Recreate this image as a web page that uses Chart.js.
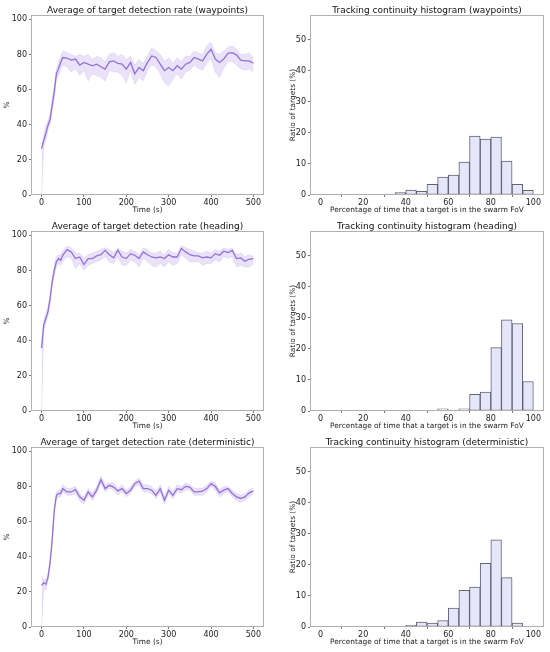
<!DOCTYPE html>
<html>
<head>
<meta charset="utf-8">
<script src="https://cdn.jsdelivr.net/npm/chart.js@4.4.0/dist/chart.umd.min.js"></script>
<style>
  body { margin: 0; background: #fff; }
  #wrap { position: relative; width: 550px; height: 652px; }
  .panel { position: absolute; width: 275px; height: 216px; }
</style>
</head>
<body>
<div id="wrap">
  <div class="panel" style="left:0;top:0"><canvas id="line1"></canvas></div>
  <div class="panel" style="left:275px;top:0"><canvas id="hist1"></canvas></div>
  <div class="panel" style="left:0;top:216px"><canvas id="line2"></canvas></div>
  <div class="panel" style="left:275px;top:216px"><canvas id="hist2"></canvas></div>
  <div class="panel" style="left:0;top:432px"><canvas id="line3"></canvas></div>
  <div class="panel" style="left:275px;top:432px"><canvas id="hist3"></canvas></div>
</div>
<script>
// time samples (s)
const times = [0,5,10,15,20,25,30,35,40,45,50,60,70,80,90,100,110,120,130,140,150,160,170,180,190,200,210,220,230,240,250,260,270,280,290,300,310,320,330,340,350,360,370,380,390,400,410,420,430,440,450,460,470,480,490,500];

// waypoints: mean detection rate and spread band
const wpMean = [26.4,31,35,39.6,43,51,59,69,72,75.5,78.3, 78,76.8,77.4,74,75.5,74.5,73.6,74.5,73,71.7, 75.8,76.4,75,74.5,71.7,75.5,69,72.6,70.8,75.5, 79.2,78.3,74.5,70.8,72.6,70.8,73.6,71.7,74.5,75.5, 78.3,77.4,76.4,80.2,83,77.4,75.5,77.4,80.6,81.1, 79.8,76.8,76.4,76.4,75];
const wpUpper = [28,34,40,42,46,54,63,72,75,79,82, 81,80,79,80,79,80,77,79,78,76, 80,81,79,80,77,79,74,77,75,79, 84,82,80,76,78,75,78,76,79,79, 82,81,80,85,87,81,80,82,84,85, 83,80,80,81,78];
const wpLower = [0,28,31,37,40,48,55,66,68,71,74, 73,70,72,68,71,65,69,68,67,65, 71,70,70,68,64,71,63,67,65,71, 74,73,69,64,62,66,69,66,70,71, 74,72,71,75,78,70,67,72,76,76, 74,72,71,72,70];

// heading
const hdMean = [35.8,49,52.8,56.6,64,73.6,80.2,85,86.8,85.8,88.7, 91.9,90.6,86.8,87.7,83.4,86.8,86.8,88.3,89,91.5, 89,87.2,91.5,87.7,86.8,89.6,88.7,86.8,90.6,89, 87.7,87.2,87.7,86.8,89,87.7,87.7,92.5,90.6,89, 88.3,88.3,87.2,87.7,87.2,89.6,88.7,91,90.2,91.5, 86.8,87.2,85.3,86.4,86.8];
const hdUpper = [38,51,55,59,66,76,83,88,89,89,91, 94,93,90,90,87,89,90,91,92,93, 92,90,93,91,90,92,91,89,93,92, 90,90,91,89,92,90,90,94,93,92, 91,90,90,91,90,92,91,93,92,93, 89,90,88,89,88];
const hdLower = [0,46,50,54,61,71,77,82,84,83,85, 88,87,81,84,80,83,84,85,86,88, 85,84,88,83,83,86,85,82,87,85, 83,82,84,82,85,83,84,89,87,85, 85,85,83,84,84,86,85,88,87,88, 82,83,82,82,84];

// deterministic
const dtMean = [23.5,25.3,24.4,28.1,36.6,49.7,66.6,75,76,76,78.8, 76.9,76.9,78.2,74.1,72.2,76.9,74.1,77.9,83.9,78.8, 80.7,79.7,77.5,78.8,76,77.9,81.6,83.1,78.8,78.8, 77.9,75,78.8,72.2,77.9,75,78.8,78.2,80.1,79.7, 76.9,76.9,77.3,78.8,81.6,80.1,76.4,77.9,78.8,76, 74.1,73.2,74.1,76.4,77.5];
const dtUpper = [29,27,27,30,38,51,68,77,78,78,81, 79,79,80,76,74,79,76,80,86,81, 82,82,79,81,78,80,83,85,81,81, 80,77,81,74,80,77,81,80,82,81, 79,79,79,81,83,82,78,80,80,78, 76,75,76,78,79];
const dtLower = [0,22,21,26,35,48,65,73,74,74,77, 75,75,76,72,70,75,72,76,82,77, 79,78,75,77,74,76,80,81,77,77, 76,73,77,70,76,73,77,76,78,78, 75,75,75,77,80,78,74,76,77,74, 72,71,72,74,76];

// histogram bins (centres, %) and ratios of targets (%)
const binCenters = [2.5,7.5,12.5,17.5,22.5,27.5,32.5,37.5,42.5,47.5,52.5,57.5,62.5,67.5,72.5,77.5,82.5,87.5,92.5,97.5];
const wpHist = [0,0,0,0,0,0,0.3,0.8,1.6,1.2,3.4,5.8,6.4,10.6,19.0,18.0,18.7,10.9,3.4,1.5];
const hdHist = [0,0,0,0,0,0,0,0,0,0,0,0.7,0.3,0.7,5.4,6.1,20.4,29.4,28.2,9.5];
const dtHist = [0,0,0,0,0,0,0,0,0.5,1.6,1.3,2.1,6.1,11.8,12.9,20.5,28.1,15.9,1.3,0];

// tick labels
const timeTicks = [0,100,200,300,400,500];
const rateTicks = [0,20,40,60,80,100];
const pctTicks = [0,20,40,60,80,100];
const ratioTicks = [0,10,20,30,40,50];

Chart.defaults.font.family = 'DejaVu Sans';
Chart.defaults.color = '#222';
Chart.defaults.animation = false;

// matplotlib-like box around the axes
const frame = {
  id: 'frame',
  afterDatasetsDraw(chart) {
    const a = chart.chartArea, c = chart.ctx;
    c.save();
    c.strokeStyle = '#b0b0b0';
    c.lineWidth = 1;
    c.strokeRect(a.left + 0.5, a.top + 0.5, a.right - a.left - 1, a.bottom - a.top - 1);
    c.restore();
  }
};

function fnt(size) { return { family: 'DejaVu Sans', size: size, lineHeight: 1 }; }

function axes(o) {
  return {
    x: {
      type: 'linear', min: o.xMin, max: o.xMax, offset: false,
      afterBuildTicks: s => { s.ticks = o.xTicks.map(v => ({ value: v })); },
      afterFit: s => { s.height = 21; },
      grid: { drawOnChartArea: false, tickLength: 2, color: '#777' },
      border: { display: false },
      ticks: { font: fnt(8), padding: 2, maxRotation: 0 },
      title: { display: true, text: o.xTitle, font: fnt(7.4), padding: { top: 0, bottom: 2 } }
    },
    y: {
      type: 'linear', min: o.yMin, max: o.yMax,
      afterBuildTicks: s => { s.ticks = o.yTicks.map(v => ({ value: v })); },
      afterFit: s => { s.width = o.yWidth; },
      grid: { drawOnChartArea: false, tickLength: 2, color: '#777' },
      border: { display: false },
      ticks: { font: fnt(8), padding: 2 },
      title: { display: true, text: o.yTitle, font: fnt(7.4), padding: { top: o.yTitlePad, bottom: 0 } }
    }
  };
}

function plugins(title) {
  return {
    legend: { display: false },
    tooltip: { enabled: false },
    title: {
      display: true, text: title, fullSize: false, color: '#111',
      font: { family: 'DejaVu Sans', size: 9, weight: 'normal', lineHeight: 1 },
      padding: { top: 6, bottom: 0 }
    }
  };
}

function lineChart(id, title, mean, upper, lower) {
  const pts = arr => times.map((t, i) => ({ x: t, y: arr[i] }));
  new Chart(document.getElementById(id), {
    type: 'line',
    data: {
      datasets: [
        { data: pts(mean), borderColor: '#9370db', borderWidth: 1.3, pointRadius: 0, fill: false, tension: 0 },
        { data: pts(upper), borderColor: 'rgba(147,112,219,0.25)', borderWidth: 0.6, pointRadius: 0,
          fill: '+1', backgroundColor: 'rgba(147,112,219,0.2)' },
        { data: pts(lower), borderColor: 'rgba(147,112,219,0.25)', borderWidth: 0.6, pointRadius: 0, fill: false }
      ]
    },
    options: {
      responsive: true, maintainAspectRatio: false,
      layout: { padding: { left: 0, right: 11, top: 0, bottom: 0 } },
      plugins: plugins(title),
      scales: axes({ xMin: -25, xMax: 525, xTicks: timeTicks, xTitle: 'Time (s)',
                     yMin: 0, yMax: 102.5, yTicks: rateTicks, yTitle: '%', yWidth: 31, yTitlePad: 3.6 })
    },
    plugins: [frame]
  });
}

function histChart(id, title, values) {
  new Chart(document.getElementById(id), {
    type: 'bar',
    data: {
      datasets: [{
        data: binCenters.map((c, i) => ({ x: c, y: values[i] })),
        backgroundColor: '#e6e6fa', borderColor: 'rgba(70,70,90,0.85)', borderWidth: 1,
        borderSkipped: false, barPercentage: 1, categoryPercentage: 1
      }]
    },
    options: {
      responsive: true, maintainAspectRatio: false,
      layout: { padding: { left: 0, right: 6, top: 0, bottom: 0 } },
      plugins: plugins(title),
      scales: axes({ xMin: -5, xMax: 105, xTicks: pctTicks, xTitle: 'Percentage of time that a target is in the swarm FoV',
                     yMin: 0, yMax: 58, yTicks: ratioTicks, yTitle: 'Ratio of targets (%)', yWidth: 35, yTitlePad: 14.6 })
    },
    plugins: [frame]
  });
}

lineChart('line1', 'Average of target detection rate (waypoints)', wpMean, wpUpper, wpLower);
histChart('hist1', 'Tracking continuity histogram (waypoints)', wpHist);
lineChart('line2', 'Average of target detection rate (heading)', hdMean, hdUpper, hdLower);
histChart('hist2', 'Tracking continuity histogram (heading)', hdHist);
lineChart('line3', 'Average of target detection rate (deterministic)', dtMean, dtUpper, dtLower);
histChart('hist3', 'Tracking continuity histogram (deterministic)', dtHist);
</script>
</body>
</html>
